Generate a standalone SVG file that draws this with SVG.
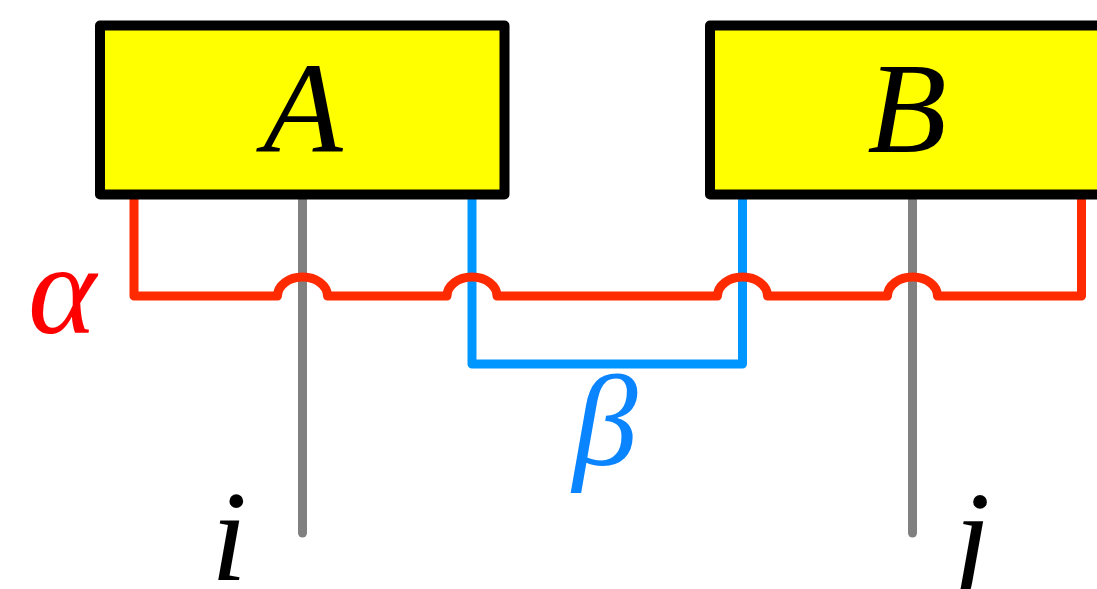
<svg xmlns="http://www.w3.org/2000/svg" width="1097" height="589" viewBox="0 0 1097 589">
<style>
.box{fill:#ffff00;stroke:#000;stroke-width:10;stroke-linejoin:round}
.w{fill:none;stroke-width:9;stroke-linecap:round;stroke-linejoin:round}
.red{stroke:#ff2a00}
.blue{stroke:#0096ff}
.gray{stroke:#808080}
.t{font-family:"Liberation Serif","Times New Roman",serif;font-style:italic;font-size:130px;text-anchor:middle}
</style>
<rect width="1097" height="589" fill="#fff"/>
<g id="connectors">
<path class="w gray" d="M302.5 196 V533"/>
<path class="w gray" d="M912.5 196 V533"/>
<path class="w blue" d="M472 196 V364 H742.5 V196"/>
<path class="w red" d="M134 196 V296 H277.5 A25 19 0 0 1 327.5 296 H447 A25 19 0 0 1 497 296 H717.5 A25 19 0 0 1 767.5 296 H887.5 A25 19 0 0 1 937.5 296 H1081.5 V196"/>
</g>
<g id="nodeA">
<rect class="box" x="100" y="25.5" width="404.5" height="169"/>
<text class="t" x="303" y="152">A</text>
</g>
<g id="nodeB">
<rect class="box" x="710" y="25.5" width="420" height="169"/>
<text class="t" x="907" y="152">B</text>
</g>
<g id="labels">
<text class="t" x="62" y="333" fill="#ff0000">α</text>
<text class="t" x="605" y="465" fill="#0a85ff">β</text>
<text class="t" x="229" y="580">i</text>
<text class="t" x="972" y="580">j</text>
</g>
</svg>
